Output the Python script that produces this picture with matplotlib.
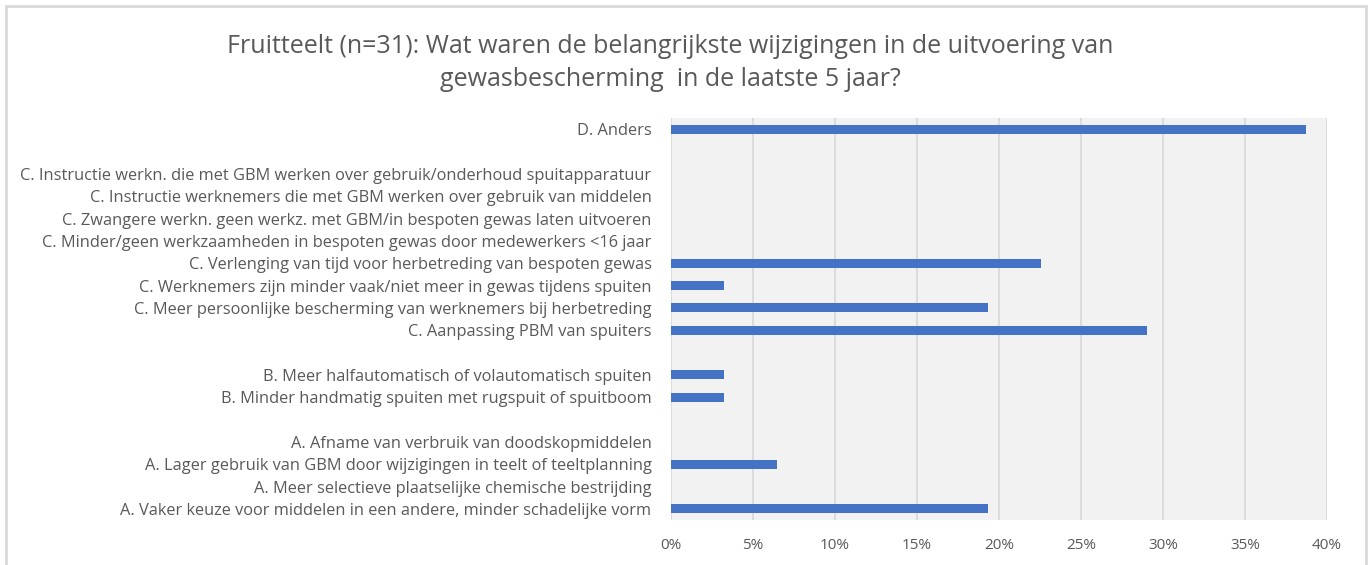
import matplotlib.pyplot as plt
from matplotlib.patches import Rectangle
from matplotlib.ticker import PercentFormatter

plt.rcParams['font.family'] = ['Open Sans', 'DejaVu Sans']

# categories from top to bottom, '' = empty spacer row
labels = [
    "D. Anders",
    "",
    "C. Instructie werkn. die met GBM werken over gebruik/onderhoud spuitapparatuur",
    "C. Instructie werknemers die met GBM werken over gebruik van middelen",
    "C. Zwangere werkn. geen werkz. met GBM/in bespoten gewas laten uitvoeren",
    "C. Minder/geen werkzaamheden in bespoten gewas door medewerkers <16 jaar",
    "C. Verlenging van tijd voor herbetreding van bespoten gewas",
    "C. Werknemers zijn minder vaak/niet meer in gewas tijdens spuiten",
    "C. Meer persoonlijke bescherming van werknemers bij herbetreding",
    "C. Aanpassing PBM van spuiters",
    "",
    "B. Meer halfautomatisch of volautomatisch spuiten",
    "B. Minder handmatig spuiten met rugspuit of spuitboom",
    "",
    "A. Afname van verbruik van doodskopmiddelen",
    "A. Lager gebruik van GBM door wijzigingen in teelt of teeltplanning",
    "A. Meer selectieve plaatselijke chemische bestrijding",
    "A. Vaker keuze voor middelen in een andere, minder schadelijke vorm",
]
# counts out of n=31
counts = [12, 0, 0, 0, 0, 0, 7, 1, 6, 9, 0, 1, 1, 0, 0, 2, 0, 6]
n = 31
values = [c / n * 100 for c in counts]

fig = plt.figure(figsize=(13.7, 5.65), dpi=100)
ax = fig.add_axes([0.4898, 0.0796, 0.4788, 0.7114])

ypos = list(range(len(labels)))[::-1]
ax.barh(ypos, values, height=0.4, color='#4472C4', zorder=3)

ax.set_facecolor('#F2F2F2')
ax.set_xlim(0, 40)
ax.set_ylim(-0.5, len(labels) - 0.5)
ax.set_xticks(range(0, 41, 5))
ax.xaxis.set_major_formatter(PercentFormatter(decimals=0))
ax.set_yticks(ypos)
ax.set_yticklabels(labels)
ax.tick_params(axis='both', length=0, colors='#595959')
ax.tick_params(axis='x', pad=13, labelsize=11)
ax.tick_params(axis='y', pad=14, labelsize=11.8)
ax.grid(axis='x', color='#D9D9D9', lw=1.3, zorder=1)
for s in ax.spines.values():
    s.set_visible(False)

fig.suptitle("Fruitteelt (n=31): Wat waren de belangrijkste wijzigingen in de uitvoering van\n"
             "gewasbescherming  in de laatste 5 jaar?",
             x=0.489, y=0.94, fontsize=18, color='#595959', linespacing=1.4)

fig.patches.append(Rectangle((0.0044, -0.05), 0.9926, 1.04, transform=fig.transFigure,
                             fill=False, edgecolor='#D9D9D9', lw=2))

fig.savefig('out.png', dpi=100)
